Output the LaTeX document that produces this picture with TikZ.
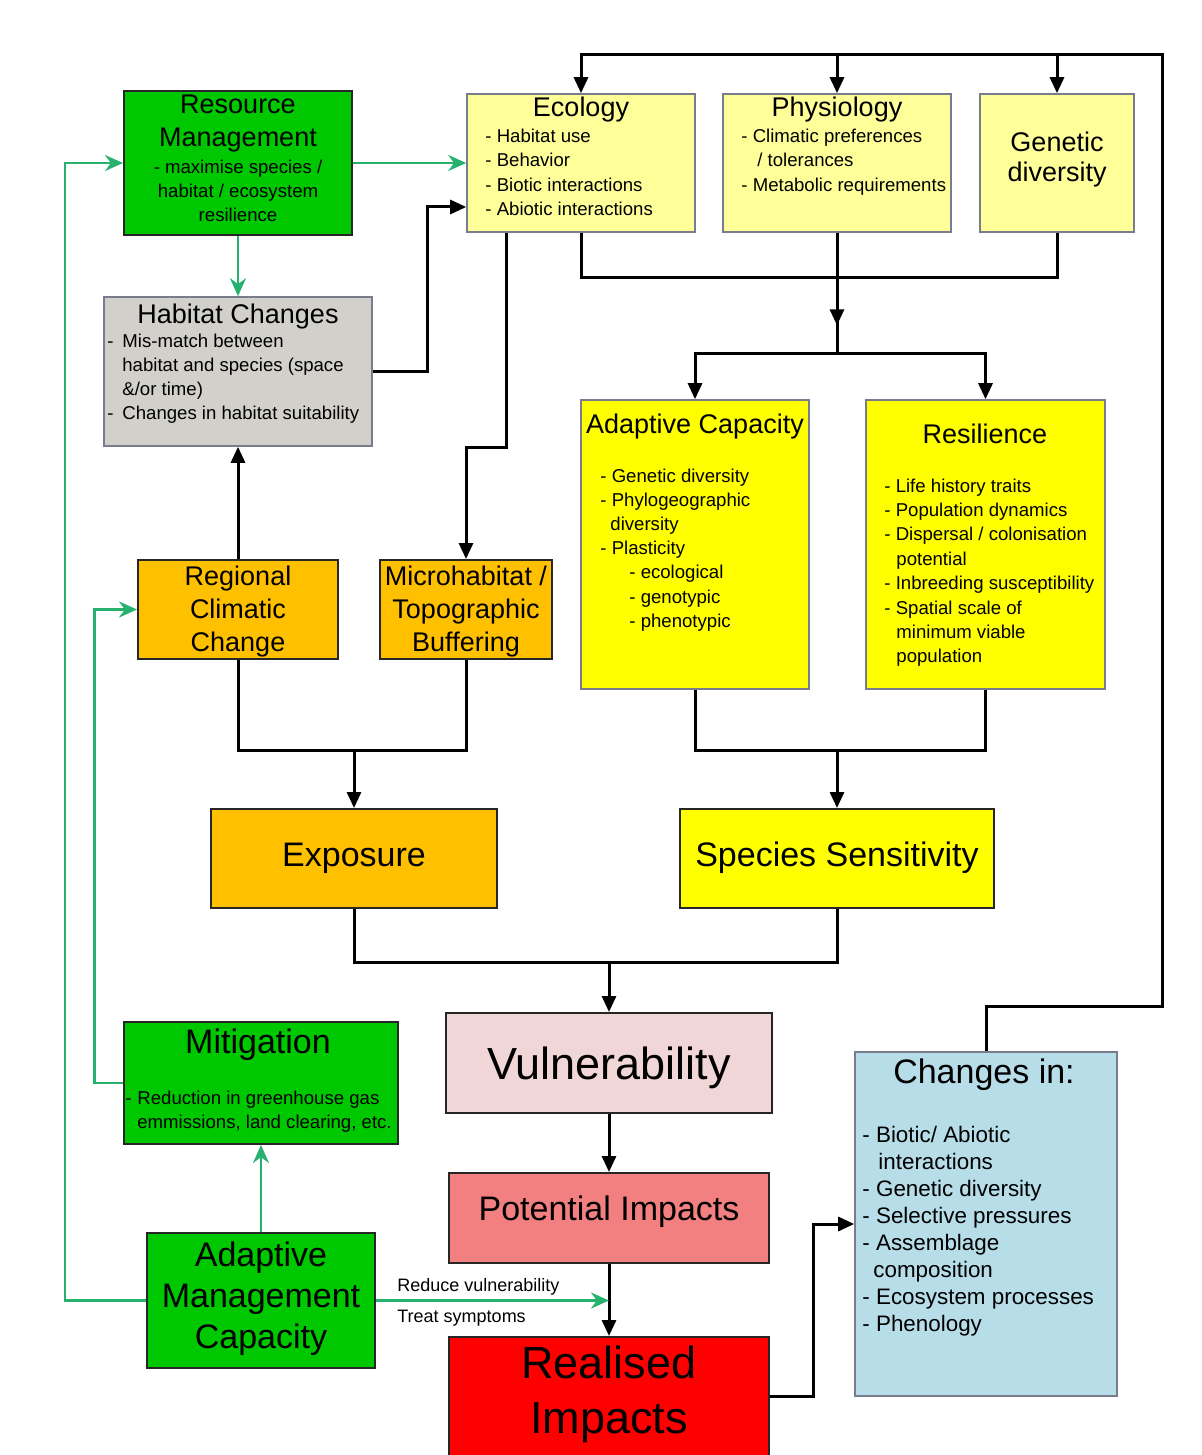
\documentclass[tikz,border=0pt]{standalone}
\usepackage{fontspec}
\setmainfont{Liberation Sans}
\usetikzlibrary{arrows.meta,calc,decorations.markings}

\definecolor{mgreen}{RGB}{0,200,0}
\definecolor{lyellow}{RGB}{255,255,153}
\definecolor{myellow}{RGB}{255,255,0}
\definecolor{morange}{RGB}{255,192,0}
\definecolor{mgray}{RGB}{210,208,202}
\definecolor{mpink}{RGB}{240,214,214}
\definecolor{msalmon}{RGB}{242,128,128}
\definecolor{mred}{RGB}{255,0,0}
\definecolor{mblue}{RGB}{183,221,232}
\definecolor{garrow}{RGB}{38,178,110}
\definecolor{edgegray}{RGB}{120,124,140}

\newcommand\fsm{\fontsize{9.3}{11}\selectfont}
\newcommand\fmd{\fontsize{13.5}{16}\selectfont}
\newcommand\flg{\fontsize{17}{20}\selectfont}
\newcommand\fxl{\fontsize{22.5}{26}\selectfont}
\newcommand\fchg{\fontsize{11.2}{13}\selectfont}

\begin{document}
\begin{tikzpicture}[x=0.5pt,y=-0.5pt,
  box/.style={draw=black!85,line width=1pt,inner sep=0pt},
  pale/.style={draw=edgegray,line width=0.8pt,inner sep=0pt},
  item/.style={inner sep=0pt,anchor=base west,font=\fsm},
  head/.style={inner sep=0pt,anchor=base,font=\fmd},
  ln/.style={line width=1.5pt,black},
  arr/.style={ln,-{Triangle[length=8pt,width=7pt]}},
  garr/.style={line width=1.2pt,garrow,-{Stealth[length=9pt,width=8pt]}}]
\useasboundingbox (0,0) rectangle (1202,1455);

% boxes
\node[box,fill=mgreen,minimum width=114pt,minimum height=72pt] (res) at (238,163) {};
\node[pale,fill=lyellow,minimum width=114pt,minimum height=69pt] (eco) at (581,163) {};
\node[pale,fill=lyellow,minimum width=114pt,minimum height=69pt] (phys) at (837,163) {};
\node[pale,fill=lyellow,minimum width=77pt,minimum height=69pt] (gen) at (1057,163) {};
\node[pale,fill=mgray,minimum width=134pt,minimum height=74.5pt] (hab) at (238,371.5) {};
\node[box,fill=morange,minimum width=100pt,minimum height=49.5pt] (reg) at (238,609.5) {};
\node[box,fill=morange,minimum width=86pt,minimum height=49.5pt] (micro) at (466,609.5) {};
\node[pale,fill=myellow,minimum width=114pt,minimum height=144.5pt] (adcap) at (695,544.5) {};
\node[pale,fill=myellow,minimum width=119.5pt,minimum height=144.5pt] (resil) at (985.5,544.5) {};
\node[box,fill=morange,minimum width=143pt,minimum height=49.5pt] (expo) at (354,858.5) {};
\node[box,fill=myellow,minimum width=157pt,minimum height=49.5pt] (sens) at (837,858.5) {};
\node[box,fill=mgreen,minimum width=137pt,minimum height=61pt] (mitig) at (260.5,1083) {};
\node[box,fill=mpink,minimum width=163pt,minimum height=50pt] (vuln) at (609,1063) {};
\node[pale,fill=mblue,minimum width=131pt,minimum height=172pt] (chg) at (986,1224) {};
\node[box,fill=msalmon,minimum width=160pt,minimum height=45pt] (pot) at (609,1218) {};
\node[box,fill=mgreen,minimum width=114pt,minimum height=67.5pt] (amc) at (261,1300.5) {};
\node[box,fill=mred,minimum width=160pt,minimum height=66.5pt] (real) at (609,1403.5) {};

% texts
\node[head] (res-t1) at (238,114) {Resource};
\node[head] (res-t2) at (238,147) {Management};
\foreach \t [count=\i] in {- maximise species /, habitat / ecosystem, resilience}
  \node[head,font=\fsm] (res-s\i) at (238,{149.5+24*\i}) {\t};

\node[head] (eco-t) at (581,117) {Ecology};
\foreach \t [count=\i] in {- Habitat use, - Behavior, - Biotic interactions, - Abiotic interactions}
  \node[item] (eco-\i) at (485,{118+24.5*\i}) {\t};

\node[head] (phys-t) at (837,117) {Physiology};
\node[item] (phys-1) at (741,142.5) {- Climatic preferences};
\node[item] (phys-2) at (757,167) {/ tolerances};
\node[item] (phys-3) at (741,191.5) {- Metabolic requirements};

\node[head] (gen-t1) at (1057,152) {Genetic};
\node[head] (gen-t2) at (1057,182) {diversity};

\node[head] (hab-t) at (238,323) {Habitat Changes};
\node[item] (hab-d1) at (107,347.5) {-};
\node[item] (hab-d2) at (107,419.5) {-};
\foreach \t [count=\i] in {Mis-match between, habitat and species (space, \&/or time), Changes in habitat suitability}
  \node[item] (hab-\i) at (122,{323.5+24*\i}) {\t};

\foreach \t [count=\i] in {Regional, Climatic, Change}
  \node[head] (reg-\i) at (238,{552+33*\i}) {\t};
\foreach \t [count=\i] in {Microhabitat /, Topographic, Buffering}
  \node[head] (micro-\i) at (466,{552+33*\i}) {\t};

\node[head] (adcap-t) at (695,433) {Adaptive Capacity};
\foreach \x/\t [count=\i] in {600/- Genetic diversity, 600/- Phylogeographic, 610/diversity, 600/- Plasticity, 629/- ecological, 629/- genotypic, 629/- phenotypic}
  \node[item] (adcap-\i) at (\x,{457.8+24.2*\i}) {\t};

\node[head] (resil-t) at (985,443) {Resilience};
\foreach \x/\t [count=\i] in {884/- Life history traits, 884/- Population dynamics, 884/{- Dispersal / colonisation}, 896/potential, 884/- Inbreeding susceptibility, 884/- Spatial scale of, 896/minimum viable, 896/population}
  \node[item] (resil-\i) at (\x,{467.6+24.4*\i}) {\t};

\node[head,font=\flg] (expo-t) at (354,866) {Exposure};
\node[head,font=\flg] (sens-t) at (837,866) {Species Sensitivity};
\node[head,font=\fxl] (vuln-t) at (609,1079) {Vulnerability};
\node[head,font=\flg] (pot-t) at (609,1220) {Potential Impacts};
\node[head,font=\fxl] (real-1) at (609,1378) {Realised};
\node[head,font=\fxl] (real-2) at (609,1433) {Impacts};

\node[head,font=\flg] (mitig-t) at (258,1053) {Mitigation};
\node[item] (mitig-d) at (125,1104) {-};
\node[item] (mitig-1) at (137,1104) {Reduction in greenhouse gas};
\node[item] (mitig-2) at (137,1128) {emmissions, land clearing, etc.};

\foreach \t [count=\i] in {Adaptive, Management, Capacity}
  \node[head,font=\flg] (amc-\i) at (261,{1225+41*\i}) {\t};

\node[head,font=\flg] (chg-t) at (984,1083) {Changes in:};
\foreach \x/\t [count=\i] in {862/{- Biotic/ Abiotic}, 878/interactions, 862/- Genetic diversity, 862/- Selective pressures, 862/- Assemblage, 873/composition, 862/- Ecosystem processes, 862/- Phenology}
  \node[item,font=\fchg] (chg-\i) at (\x,{1115+27*\i}) {\t};

\node[item,font=\fontsize{9}{11}\selectfont] (lab-red) at (397,1291) {Reduce vulnerability};
\node[item,font=\fontsize{9}{11}\selectfont] (lab-treat) at (397,1322) {Treat symptoms};

% black connectors
\coordinate (tr) at (1162,55);
\coordinate (cr) at (1162,1006);
\draw[arr] (chg.north) |- (cr) -- (tr) -| (eco.north);
\draw[arr] (phys.north |- tr) -- (phys.north);
\draw[arr] (gen.north |- tr) -- (gen.north);

\coordinate (j1) at (phys.south |- 0,277);
\coordinate (j2) at (phys.south |- 0,353);
\draw[ln] (eco.south) |- (j1);
\draw[ln] (gen.south) |- (j1);
\draw[ln,decoration={markings,mark=at position 0.77 with {\arrow{Triangle[length=8pt,width=7pt]}}},postaction=decorate] (phys.south) -- (j2);
\draw[arr] (j2) -| (adcap.north);
\draw[arr] (j2) -| (resil.north);

\draw[arr] (hab.east) -- ++(55,0) |- ([yshift=-22pt]eco.west);
\draw[arr] ([xshift=-37.5pt]eco.south) -- ++(0,215) -| (micro.north);
\draw[arr] (reg.north) -- (hab.south);

\coordinate (j3) at (expo.north |- 0,750);
\draw[ln] (reg.south) |- (j3);
\draw[ln] (micro.south) |- (j3);
\draw[arr] (j3) -- (expo.north);

\coordinate (j4) at (sens.north |- 0,750);
\draw[ln] (adcap.south) |- (j4);
\draw[ln] (resil.south) |- (j4);
\draw[arr] (j4) -- (sens.north);

\coordinate (j5) at (vuln.north |- 0,962);
\draw[ln] (expo.south) |- (j5);
\draw[ln] (sens.south) |- (j5);
\draw[arr] (j5) -- (vuln.north);

\draw[arr] (vuln.south) -- (pot.north);
\draw[arr] (pot.south) -- (real.north);
\draw[arr] ([yshift=3.75pt]real.east) -- ++(43,0) |- (chg.west);

% green connectors
\draw[garr] (res.east) -- (res.east -| eco.west);
\draw[garr] (res.south) -- (hab.north);
\draw[garr] (amc.west) -- ++(-81,0) |- (res.west);
\draw[garr] (mitig.west) -- ++(-28,0) |- (reg.west);
\draw[garr] (amc.north) -- (amc.north |- mitig.south);
\draw[garr] (amc.east) -- (amc.east -| pot.south);
\end{tikzpicture}
\end{document}
